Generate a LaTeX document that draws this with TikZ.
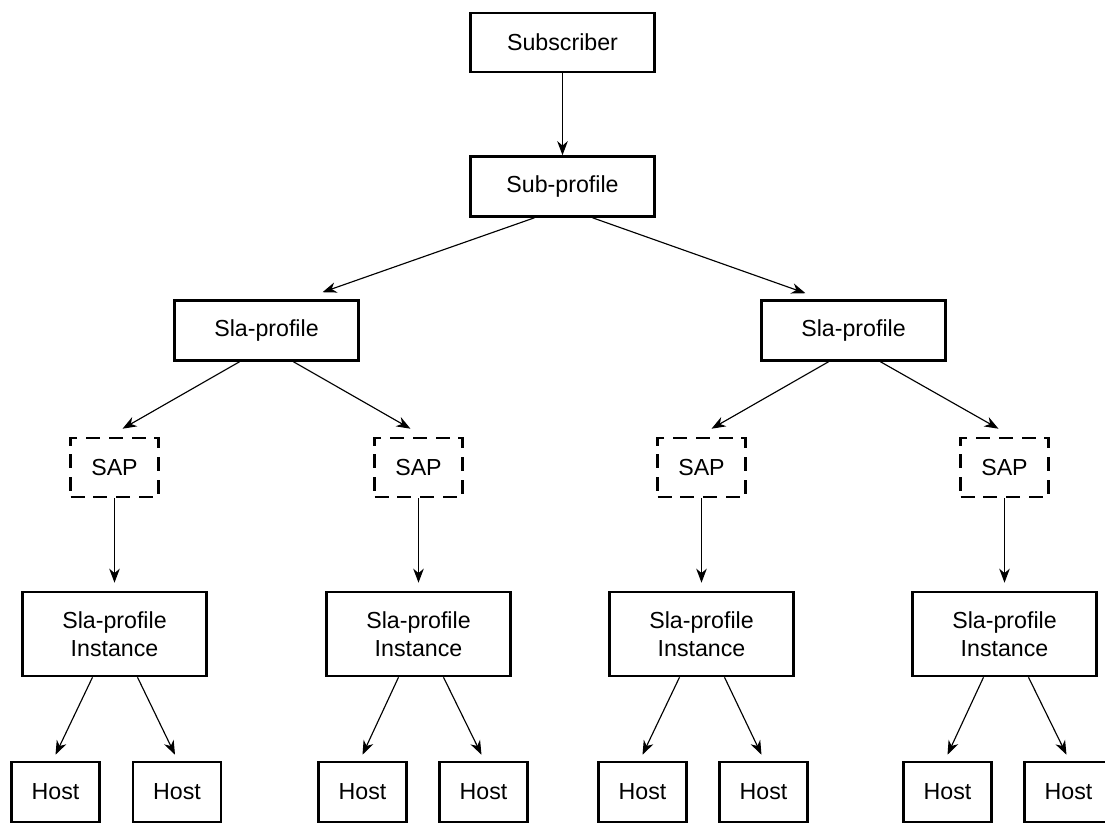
\documentclass[tikz,border=0pt]{standalone}
\usepackage{fontspec}
\setmainfont{Liberation Sans}
\usepackage{xcolor}
\usepackage{tikz}
\usetikzlibrary{arrows.meta, positioning}

\begin{document}
\begin{tikzpicture}[
        font=\fontsize{13.2}{15.9}\selectfont,
        node distance=2.88cm,
        block/.style={rectangle, draw, line width=1.45pt, minimum width=3.68cm, minimum height=1.2cm, align=center},
        sapblock/.style={rectangle, draw, line width=1.45pt, dash pattern=on 8pt off 5pt, minimum width=1.76cm, minimum height=1.18cm},
        hostblock/.style={rectangle, draw, line width=1.45pt, minimum width=1.76cm, minimum height=1.2cm},
        arrow/.style={line width=0.65pt,-{Stealth[length=8pt,width=6pt,inset=2.5pt]}}
    ]
        \useasboundingbox (0,0) rectangle (22.1,-16.46);

        % Top of the tree
        \node[block, minimum height=1.18cm] (subscriber) at (11.25,-0.85) {Subscriber};
        \node[block, below of=subscriber] (subProfile) {Sub-profile};
        \node[block, below of=subProfile, xshift=-5.92cm] (slaLeft) {Sla-profile};
        \node[block, below of=subProfile, xshift=5.82cm] (slaRight) {Sla-profile};

        % SAPs
        \node[sapblock, below of=slaLeft, node distance=2.74cm, xshift=-3.04cm] (sapA) {SAP};
        \node[sapblock, below of=slaLeft, node distance=2.74cm, xshift=3.04cm] (sapB) {SAP};
        \node[sapblock, below of=slaRight, node distance=2.74cm, xshift=-3.04cm] (sapC) {SAP};
        \node[sapblock, below of=slaRight, node distance=2.74cm, xshift=3.02cm] (sapD) {SAP};

        % Sla-profile instances
        \node[block, minimum height=1.68cm, below of=sapA, node distance=3.33cm] (instA) {Sla-profile\\Instance};
        \node[block, minimum height=1.68cm, below of=sapB, node distance=3.33cm] (instB) {Sla-profile\\Instance};
        \node[block, minimum height=1.68cm, below of=sapC, node distance=3.33cm] (instC) {Sla-profile\\Instance};
        \node[block, minimum height=1.68cm, below of=sapD, node distance=3.33cm] (instD) {Sla-profile\\Instance};

        % Hosts
        \node[hostblock, below of=instA, node distance=3.16cm, xshift=-1.18cm] (hostA1) {Host};
        \node[hostblock, below of=instA, node distance=3.16cm, xshift=1.25cm] (hostA2) {Host};
        \node[hostblock, below of=instB, node distance=3.16cm, xshift=-1.12cm] (hostB1) {Host};
        \node[hostblock, below of=instB, node distance=3.16cm, xshift=1.3cm] (hostB2) {Host};
        \node[hostblock, below of=instC, node distance=3.16cm, xshift=-1.18cm] (hostC1) {Host};
        \node[hostblock, below of=instC, node distance=3.16cm, xshift=1.24cm] (hostC2) {Host};
        \node[hostblock, below of=instD, node distance=3.16cm, xshift=-1.14cm] (hostD1) {Host};
        \node[hostblock, below of=instD, node distance=3.16cm, xshift=1.28cm] (hostD2) {Host};

        % Arrows down to the Sla-profiles
        \draw[arrow] (subscriber) -- (subProfile);
        \draw[arrow] ([xshift=-0.56cm]subProfile.south) -- ([xshift=1.12cm,yshift=0.14cm]slaLeft.north);
        \draw[arrow] ([xshift=0.6cm]subProfile.south) -- ([xshift=-0.96cm,yshift=0.12cm]slaRight.north);

        % Arrows to the SAPs
        \draw[arrow] ([xshift=-0.54cm]slaLeft.south) -- ([xshift=0.16cm,yshift=0.16cm]sapA.north);
        \draw[arrow] ([xshift=0.54cm]slaLeft.south) -- ([xshift=-0.16cm,yshift=0.16cm]sapB.north);
        \draw[arrow] ([xshift=-0.5cm]slaRight.south) -- ([xshift=0.2cm,yshift=0.16cm]sapC.north);
        \draw[arrow] ([xshift=0.54cm]slaRight.south) -- ([xshift=-0.12cm,yshift=0.16cm]sapD.north);

        % Arrows to the instances
        \draw[arrow] (sapA.south) -- ([yshift=0.16cm]instA.north);
        \draw[arrow] (sapB.south) -- ([yshift=0.16cm]instB.north);
        \draw[arrow] (sapC.south) -- ([yshift=0.16cm]instC.north);
        \draw[arrow] (sapD.south) -- ([yshift=0.16cm]instD.north);

        % Arrows to the hosts
        \draw[arrow] ([xshift=-0.44cm]instA.south) -- ([yshift=0.12cm]hostA1.north);
        \draw[arrow] ([xshift=0.46cm]instA.south) -- ([xshift=-0.04cm,yshift=0.12cm]hostA2.north);
        \draw[arrow] ([xshift=-0.4cm]instB.south) -- ([yshift=0.12cm]hostB1.north);
        \draw[arrow] ([xshift=0.5cm]instB.south) -- ([xshift=-0.04cm,yshift=0.12cm]hostB2.north);
        \draw[arrow] ([xshift=-0.44cm]instC.south) -- ([yshift=0.12cm]hostC1.north);
        \draw[arrow] ([xshift=0.46cm]instC.south) -- ([xshift=-0.04cm,yshift=0.12cm]hostC2.north);
        \draw[arrow] ([xshift=-0.42cm]instD.south) -- ([yshift=0.12cm]hostD1.north);
        \draw[arrow] ([xshift=0.48cm]instD.south) -- ([xshift=-0.04cm,yshift=0.12cm]hostD2.north);

    \end{tikzpicture}
\end{document}
